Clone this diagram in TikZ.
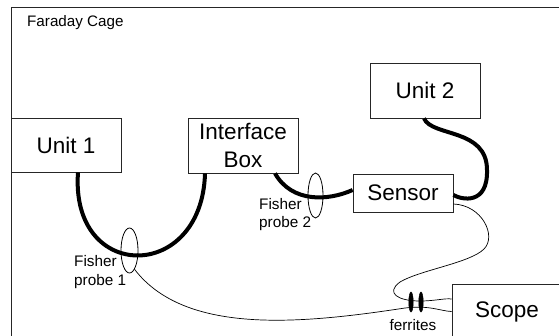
\documentclass[tikz,border=0pt]{standalone}
\usepackage{fontspec}
\setmainfont{Liberation Sans}
\usetikzlibrary{shapes.geometric,calc}
\begin{document}
\begin{tikzpicture}[x=1pt,y=-1pt,
  box/.style={draw=black!85,line width=0.8pt,rectangle,inner sep=0pt,
    font=\fontsize{22.5}{27.5}\selectfont,align=center},
  cable/.style={line width=4pt},
  wire/.style={line width=0.7pt},
  probe/.style={draw,ellipse,line width=0.8pt,inner sep=0pt},
  ferrite/.style={draw,fill=black,ellipse,inner sep=0pt,
    minimum width=4.5pt,minimum height=20pt},
  small/.style={font=\fontsize{15.3}{18.5}\selectfont,inner sep=0pt,align=left}]
\useasboundingbox (0,0) rectangle (559,335);
\clip (0,0) rectangle (559,335);

% the cage enclosing the whole set-up
\draw[draw=black!85,line width=0.8pt] (11,7) rectangle (620,400);
\node[font=\fontsize{15.2}{17}\selectfont,anchor=base west,inner sep=0pt] (fc) at (27,26.5) {Faraday Cage};

% equipment
\node[box,minimum width=110pt,minimum height=54pt] (u1) at (66,145) {Unit 1};
\node[box,minimum width=110pt,minimum height=55pt] (ib) at (243,145.5) {Interface\\Box};
\node[box,minimum width=110pt,minimum height=55pt] (u2) at (425,90.5) {Unit 2};
\node[box,minimum width=100pt,minimum height=38pt] (se) at (403,193) {Sensor};
\node[box,minimum width=110pt,minimum height=55pt] (sc) at (507,311.5) {Scope};

% heavy cables
\draw[cable] ([xshift=12pt]u1.south) .. controls (70,283) and (202,283) .. ([xshift=-38pt]ib.south);
\draw[cable] ([xshift=32pt]ib.south) .. controls (292,203) and (328,201) .. ([yshift=3pt]se.west);
\draw[cable] ([xshift=-1pt]u2.south) .. controls (432,137) and (487,128) .. (487,170)
  .. controls (488,205) and (462,200) .. ([yshift=-2pt]se.east);

% current probes clamped on the cables
\node[probe,minimum width=17pt,minimum height=45pt] (p1) at (129.5,250.5) {};
\node[probe,minimum width=15pt,minimum height=45pt] (p2) at (315.5,195.5) {};
\node[small,anchor=north west] (l1) at (74,255.5) {Fisher\\probe 1};
\node[small,anchor=north west] (l2) at (259,198) {Fisher\\probe 2};

% measurement leads to the scope
\draw[wire] (p1.-75) .. controls (185,335) and (300,324) .. (405,308)
  .. controls (430,305) and (440,311) .. (sc.west);
\draw[wire] ([yshift=-11pt]se.east) .. controls (482,205) and (497,236) .. (484,249)
  .. controls (470,263) and (420,270) .. (400,282)
  .. controls (385,293) and (398,301) .. (420,301)
  .. controls (435,301) and (445,298) .. ([yshift=12.5pt]sc.west);

% ferrite beads on the leads
\node[ferrite] (f1) at (411,302) {};
\node[ferrite] (f2) at (421,302) {};
\node[small] (fl) at (413,325) {ferrites};
\end{tikzpicture}
\end{document}
